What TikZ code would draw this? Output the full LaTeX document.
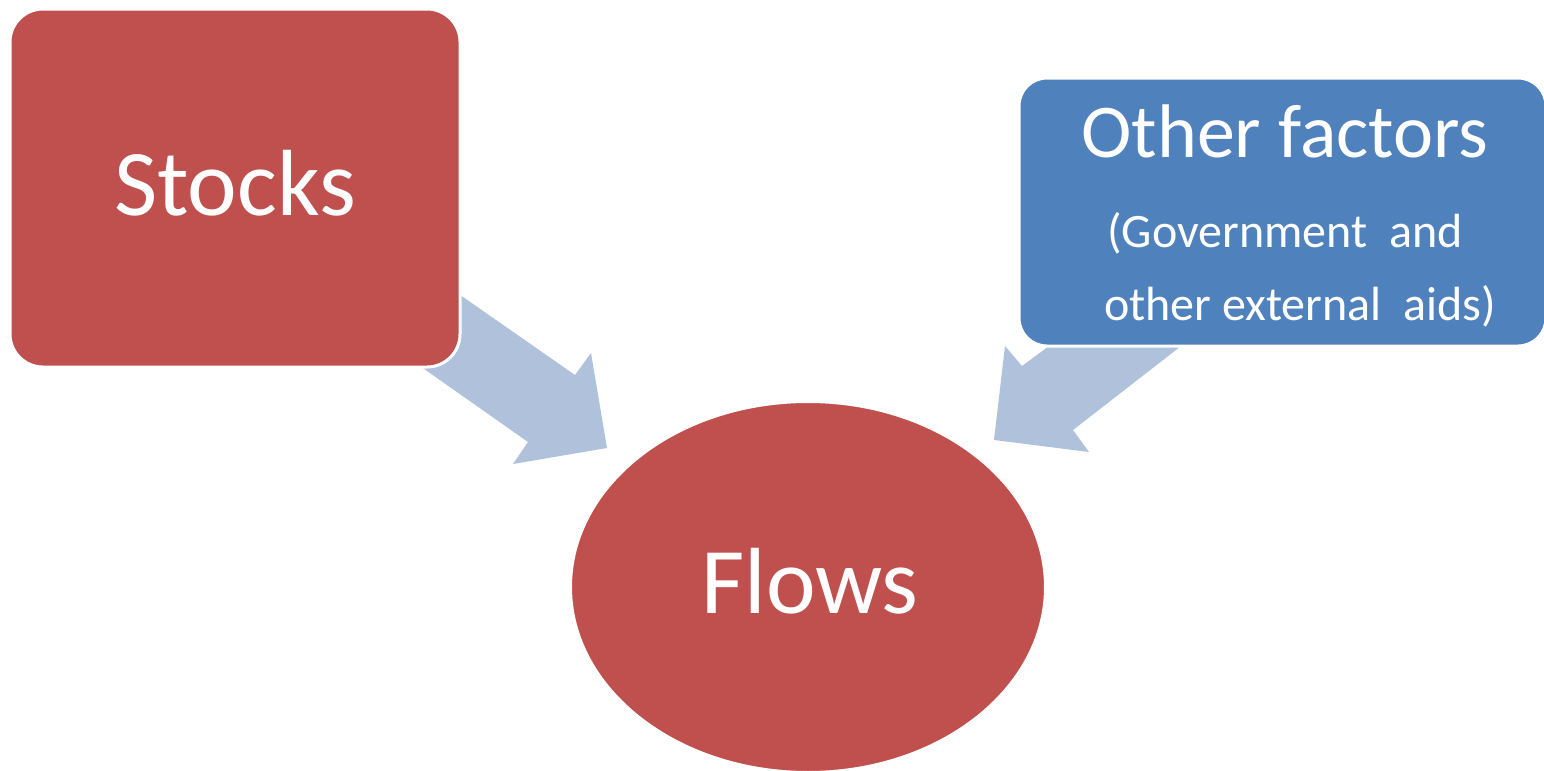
\documentclass[tikz,border=0pt]{standalone}
\usepackage{fontspec}
\setmainfont{Carlito}
\usetikzlibrary{shapes.geometric}
\definecolor{redbox}{HTML}{C0504D}
\definecolor{bluebox}{HTML}{4F81BD}
\definecolor{arrowblue}{HTML}{B0C1DC}
\tikzset{
  stockbox/.style={rectangle, rounded corners=16.5pt, fill=redbox, draw=white, line width=1.5pt, inner sep=0pt},
  otherbox/.style={rectangle, rounded corners=14pt, fill=bluebox, draw=white, line width=1.5pt, inner sep=0pt},
  flowell/.style={ellipse, fill=redbox, draw=white, line width=1pt, inner sep=0pt},
  bigtxt/.style={text=white, inner sep=0pt, font=\fontsize{47pt}{56pt}\selectfont},
  midtxt/.style={text=white, inner sep=0pt, font=\fontsize{38pt}{46pt}\selectfont},
  smalltxt/.style={text=white, inner sep=0pt, font=\fontsize{24pt}{29pt}\selectfont},
  blockarrow/.style={fill=arrowblue, draw=none}
}
\begin{document}
\begin{tikzpicture}[x=0.5pt,y=-0.5pt]
\useasboundingbox (0,0) rectangle (1544,771);
% block arrow from Stocks to Flows
\coordinate (a1t1) at (420,267);
\coordinate (a1t2) at (575,375);
\coordinate (a1h1) at (591,353);
\coordinate (a1tip) at (607,448);
\coordinate (a1h2) at (513,464);
\coordinate (a1b2) at (528,442);
\coordinate (a1b1) at (400,352);
\fill[blockarrow] (a1t1) -- (a1t2) -- (a1h1) -- (a1tip) -- (a1h2) -- (a1b2) -- (a1b1) -- cycle;
% block arrow from Other factors to Flows
\coordinate (a2t1) at (1203,329);
\coordinate (a2t2) at (1073,430);
\coordinate (a2h1) at (1089,452);
\coordinate (a2tip) at (994,440);
\coordinate (a2h2) at (1005,346);
\coordinate (a2b2) at (1022,366);
\coordinate (a2b1) at (1072,329);
\fill[blockarrow] (a2t1) -- (a2t2) -- (a2h1) -- (a2tip) -- (a2h2) -- (a2b2) -- (a2b1) -- cycle;
% boxes
\node[stockbox, minimum width=225pt, minimum height=179pt] (stocks) at (235,188) {};
\node[otherbox, minimum width=263.5pt, minimum height=134pt] (other) at (1282.5,212) {};
\node[flowell, minimum width=237pt, minimum height=185pt] (flows) at (808,587) {};
% texts
\node[bigtxt, anchor=base] (stockstxt) at (235,215) {Stocks};
\node[bigtxt, anchor=base] (flowstxt) at (810,613) {Flows};
\node[midtxt, anchor=base] (othertxt) at (1285,157) {Other factors};
\node[smalltxt, anchor=base] (govtxt) at (1285,247) {(Government~ and};
\node[smalltxt, anchor=base] (exttxt) at (1300,320) {other external~ aids)};
\end{tikzpicture}
\end{document}
